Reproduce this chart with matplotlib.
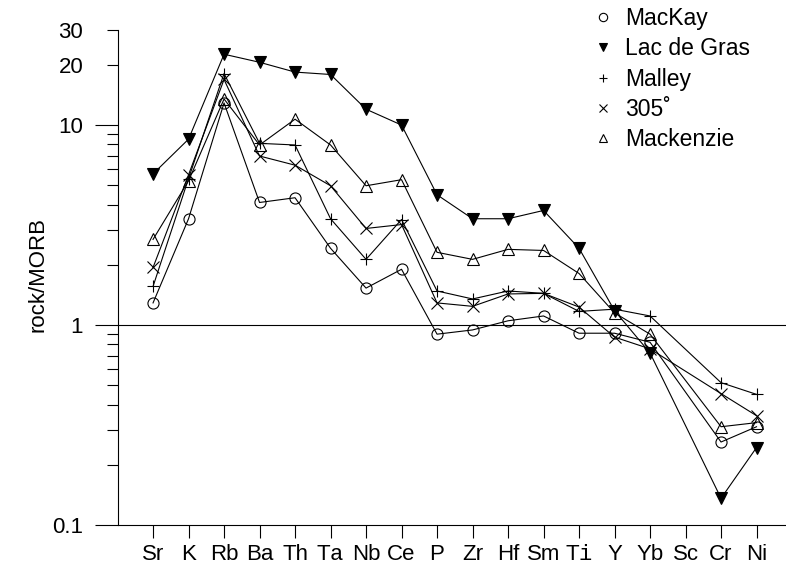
import matplotlib
matplotlib.use("agg")

import matplotlib.pyplot as plt
from matplotlib.lines import Line2D
from matplotlib.ticker import FixedLocator, FixedFormatter
import numpy as np

plt.rcParams["font.family"] = ["Liberation Sans", "DejaVu Sans"]
plt.rcParams["mathtext.fontset"] = "custom"
plt.rcParams["mathtext.tt"] = "Liberation Mono"

# elements, normalised to MORB (None = not analysed)
elements = ["Sr", "K", "Rb", "Ba", "Th", "T$\\mathtt{a}$", "Nb", "Ce", "P", "Zr",
            "Hf", "Sm", "T$\\mathtt{i}$", "Y", "Yb", "Sc", "Cr", "Ni"]

mackay = [1.29, 3.4, 12.9, 4.1, 4.33, 2.42, 1.53, 1.9, 0.90, 0.945,
          1.05, 1.11, 0.91, 0.91, 0.82, None, 0.26, 0.31]
lac_de_gras = [5.7, 8.5, 22.6, 20.6, 18.4, 17.9, 12.0, 10.0, 4.48, 3.4,
               3.4, 3.74, 2.42, 1.18, 0.725, None, 0.136, 0.244]
malley = [1.56, 5.4, 18.1, 8.1, 7.95, 3.4, 2.13, 3.37, 1.48, 1.35,
          1.48, 1.44, 1.17, 1.2, 1.11, None, 0.515, 0.45]
s305 = [1.94, 5.64, 16.9, 7.0, 6.3, 4.97, 3.04, 3.18, 1.29, 1.24,
        1.43, 1.44, 1.23, 0.87, 0.76, None, 0.454, 0.352]
mackenzie = [2.68, 5.26, 13.5, 7.95, 10.7, 7.95, 4.97, 5.33, 2.31, 2.13,
             2.39, 2.36, 1.81, 1.15, 0.90, None, 0.31, 0.325]

series = [
    ("MacKay", mackay, dict(marker="o", mfc="none")),
    ("Lac de Gras", lac_de_gras, dict(marker="v", mfc="black")),
    ("Malley", malley, dict(marker="+")),
    ("305\u02da", s305, dict(marker="x")),
    ("Mackenzie", mackenzie, dict(marker="^", mfc="none")),
]

fig = plt.figure(figsize=(7.86, 5.68), dpi=100)
ax = fig.add_axes([0.150, 0.0757, 0.850, 0.9243])

xs = np.arange(1, len(elements) + 1)
handles = []
for name, vals, style in series:
    px = [x for x, v in zip(xs, vals) if v is not None]
    py = [v for v in vals if v is not None]
    ax.plot(px, py, color="black", lw=0.8, ms=8, mec="black", mew=0.8, **style)
    handles.append(Line2D([], [], color="black", ls="None", ms=6, mec="black",
                          mew=0.8, label=name, **style))

ax.axhline(1, color="black", lw=0.8)

ax.set_yscale("log")
ax.set_ylim(0.1, 42.2)
ax.set_xlim(0.01, 18.83)

# y axis ticks, R-style
major = [0.1, 1, 10]
minor = [0.2, 0.3, 0.4, 0.5, 0.6, 0.7, 0.8, 0.9,
         2, 3, 4, 5, 6, 7, 8, 9, 20, 30]
minor_labels = ["" for _ in minor]
minor_labels[-2] = "20"
minor_labels[-1] = "30"
ax.yaxis.set_major_locator(FixedLocator(major))
ax.yaxis.set_major_formatter(FixedFormatter(["0.1", "1", "10"]))
ax.yaxis.set_minor_locator(FixedLocator(minor))
ax.yaxis.set_minor_formatter(FixedFormatter(minor_labels))
ax.tick_params(axis="y", which="major", direction="out", length=16.5,
               width=0.8, pad=8.5, labelsize=16)
ax.tick_params(axis="y", which="minor", direction="out", length=8,
               width=0.8, pad=17, labelsize=16)

ax.set_xticks(xs)
ax.set_xticklabels(elements)
ax.tick_params(axis="x", direction="out", length=9, width=0.8, pad=5,
               labelsize=16)

for side in ["top", "right"]:
    ax.spines[side].set_visible(False)
ax.spines["left"].set_bounds(0.1, 30)
ax.spines["left"].set_linewidth(0.8)
ax.spines["bottom"].set_linewidth(0.8)

fig.text(38 / 786, 1 - 275 / 568, "rock/MORB", rotation=90, fontsize=16,
         ha="center", va="center")

fig.legend(handles=handles, loc="upper left",
           bbox_to_anchor=(592 / 786, 1 - 7 / 568),
           frameon=False, fontsize=16.5, handlelength=1.0, handletextpad=0.45,
           labelspacing=0.32, borderaxespad=0.0, borderpad=0.0)

fig.savefig("out.png", dpi=100)
